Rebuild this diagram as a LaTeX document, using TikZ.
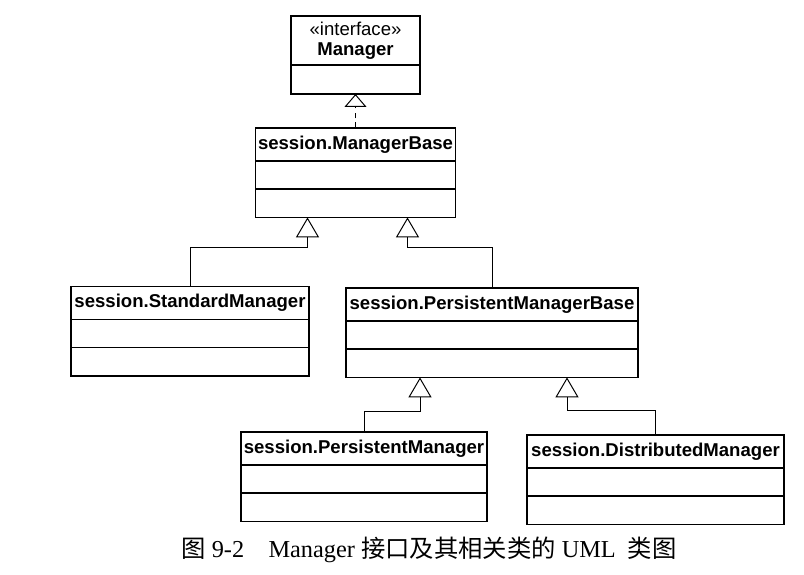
\documentclass[tikz,border=0pt]{standalone}
\usepackage{fontspec}
\setmainfont{Liberation Sans}
\newfontfamily\capfont{Liberation Serif}
\newfontfamily\cjk{Noto Sans CJK SC}
\usetikzlibrary{positioning,arrows.meta,calc}

\begin{document}
\begin{tikzpicture}[x=0.025cm, y=-0.025cm,
    every node/.style={draw, line width=1.1pt, outer sep=0pt, inner sep=1pt},
    head/.style={font=\bfseries\fontsize{13.2}{14.2}\selectfont, minimum height=23.3pt},
    row/.style={minimum height=20.1pt},
    inherit/.style={line width=0.7pt, -{Triangle[open, length=14.2pt, width=16.4pt]}},
    realize/.style={line width=0.7pt, dash pattern=on 4pt off 3pt, -{Triangle[open, length=9.2pt, width=15.6pt]}}]
    \useasboundingbox (0,0) rectangle (804,574);

    % Interface
    \node[head, minimum width=91.8pt, minimum height=34.9pt, align=center] (mgr) at (355.5,40.5) {{\mdseries «interface»}\\Manager};
    \node[row, minimum width=91.8pt, minimum height=20.6pt, below=0pt of mgr] (mgr-a) {};

    % Classes
    \node[head, minimum width=142.3pt] (mb) at (355.5,144.5) {session.ManagerBase};
    \node[head, minimum width=169.3pt] (sm) at (190,303) {session.StandardManager};
    \node[head, minimum width=207.7pt] (pmb) at (492,304.5) {session.PersistentManagerBase};
    \node[head, minimum width=175pt] (pm) at (364,448.5) {session.PersistentManager};
    \node[head, minimum width=182.8pt] (dm) at (655.5,451.5) {session.DistributedManager};

    % empty rows
    \foreach \c/\w in {mb/142.3pt, sm/169.3pt, pmb/207.7pt, pm/175pt, dm/182.8pt} {
        \node[row, minimum width=\w, below=0pt of \c] (\c-a) {};
        \node[row, minimum width=\w, below=0pt of \c-a] (\c-b) {};
    }

    % Edges
    \draw[realize] (mb.north) -- (mgr-a.south);
    \foreach \child/\up/\parent/\dx in {sm/39/mb-b/-48, pmb/41/mb-b/52, pm/21/pmb-b/-72, dm/25/pmb-b/75} {
        \draw[inherit] (\child.north) -- ++(0,-\up) -| ($(\parent.south)+(\dx,0)$);
    }

    % Caption
    \node[draw=none, font=\capfont\fontsize{17.3}{20}\selectfont] (cap) at (429,550) {{\cjk 图} 9-2\quad Manager {\cjk 接口及其相关类的} UML\hspace{0.5em}{\cjk 类图}};
\end{tikzpicture}
\end{document}
